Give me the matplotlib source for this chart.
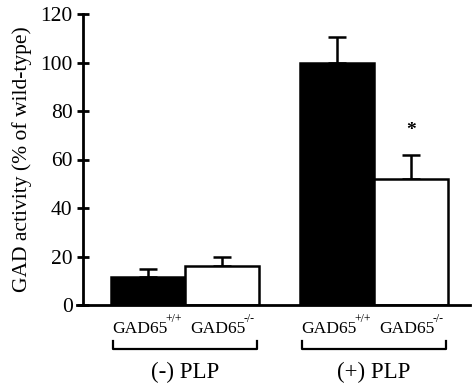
import numpy as np
import matplotlib
matplotlib.use('Agg')
from matplotlib import pyplot as plt

# data
groups = ['(-) PLP', '(+) PLP']
genotypes = ['GAD65', 'GAD65']
superscripts = ['+/+', '-/-']
values = [11.5, 16, 100, 52]
errors = [3.5, 4, 10.5, 10]
colors = ['black', 'white', 'black', 'white']
positions = [0, 1, 2.55, 3.55]

plt.rcParams['font.family'] = ['Liberation Serif', 'DejaVu Serif']

fig = plt.figure(figsize=(4.74, 3.87), dpi=100)
ax = fig.add_axes([77 / 474, 82 / 387, (470 - 77) / 474, 291 / 387])

ax.bar(positions, values, width=1.0, color=colors, edgecolor='black', linewidth=1.8, zorder=2)
ax.errorbar(positions, values, yerr=[np.zeros(4), errors], fmt='none', ecolor='black',
            elinewidth=1.8, capsize=6.5, capthick=1.8, clip_on=False, zorder=1)

ax.text(3.55, 72, '*', ha='center', va='center', fontsize=14, fontweight='bold')

ax.set_xlim(-0.96, 4.35)
ax.set_ylim(0, 120)
ax.set_yticks(range(0, 121, 20))
ax.set_xticks([])
ax.spines['top'].set_visible(False)
ax.spines['right'].set_visible(False)
ax.spines['left'].set_position(('data', -0.88))
ax.spines['left'].set_linewidth(2)
ax.spines['bottom'].set_linewidth(2)
ax.tick_params(axis='y', direction='inout', length=9, width=2, labelsize=15.5, pad=3)
ax.set_ylabel('GAD activity (% of wild-type)', fontsize=15.5, labelpad=6)

# genotype labels and group brackets below the axis
label_shift = [14, 17]
for g in range(2):
    p0, p1 = positions[2 * g], positions[2 * g + 1]
    for k, p in enumerate((p0, p1)):
        ax.annotate(genotypes[k], (p, -9.9), xytext=(label_shift[k], 0), textcoords='offset points',
                    ha='right', va='center', fontsize=12.6, annotation_clip=False)
        ax.annotate(superscripts[k], (p, -9.9), xytext=(label_shift[k] - 1.5, 7),
                    textcoords='offset points', ha='left', va='center', fontsize=8.5,
                    annotation_clip=False)
    xl, xr = p0 - 0.47, p1 + 0.47
    ax.plot([xl, xl, xr, xr], [-14.8, -18.1, -18.1, -14.8], color='black', lw=1.6, clip_on=False)
    ax.text((p0 + p1) / 2, -28, groups[g], ha='center', va='center', fontsize=16.5, clip_on=False)

fig.savefig('out.png', dpi=100)
